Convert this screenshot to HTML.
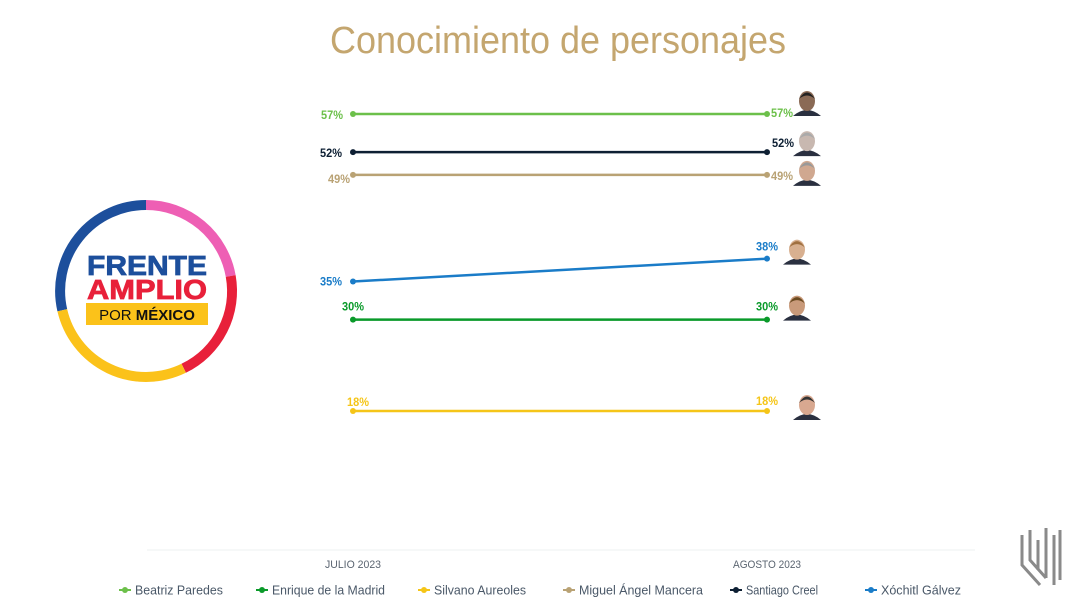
<!DOCTYPE html>
<html><head><meta charset="utf-8"><style>
body{margin:0;background:#fff;width:1080px;height:608px;overflow:hidden;font-family:"Liberation Sans",sans-serif}
</style></head><body>
<svg width="1080" height="608" viewBox="0 0 1080 608" xmlns="http://www.w3.org/2000/svg" id="svg">
<text x="558" y="53" text-anchor="middle" font-size="38" fill="#c4a66f" textLength="456" lengthAdjust="spacingAndGlyphs" font-family="Liberation Sans, sans-serif">Conocimiento de personajes</text>
<g>
<path d="M62.3,310.3 A86,86 0 0 1 146,205" fill="none" stroke="#1d4f9c" stroke-width="10"/>
<path d="M146,205 A86,86 0 0 1 230.7,276" fill="none" stroke="#ee5fb4" stroke-width="10"/>
<path d="M230.7,276 A86,86 0 0 1 183.7,368.3" fill="none" stroke="#e8203a" stroke-width="10"/>
<path d="M183.7,368.3 A86,86 0 0 1 62.3,310.3" fill="none" stroke="#fbc21a" stroke-width="10"/>
<text x="147" y="275" text-anchor="middle" font-family="Liberation Sans, sans-serif" font-weight="bold" font-size="28" textLength="120" lengthAdjust="spacingAndGlyphs" fill="#1d4f9c" stroke="#1d4f9c" stroke-width="0.8">FRENTE</text>
<text x="147" y="299" text-anchor="middle" font-family="Liberation Sans, sans-serif" font-weight="bold" font-size="28" textLength="120" lengthAdjust="spacingAndGlyphs" fill="#e8203a" stroke="#e8203a" stroke-width="0.8">AMPLIO</text>
<rect x="86" y="303" width="122" height="22" fill="#fbc21a"/>
<text x="147" y="320" text-anchor="middle" font-family="Liberation Sans, sans-serif" font-size="15" fill="#111"><tspan>POR </tspan><tspan font-weight="bold">MÉXICO</tspan></text>
</g>
<line x1="147" y1="550" x2="975" y2="550" stroke="#eef0f2" stroke-width="1"/>
<g id="plot"></g>
<g stroke="#8a8a8a" stroke-width="3" fill="none">
<path d="M1022,535 L1022,565 L1040,585 M1030,530 L1030,560 L1046,578 M1038,540 L1038,570 M1046,528 L1046,578 M1054,535 L1054,585 M1060,530 L1060,580"/>
</g>
</svg>
<script>
const categories = ["JULIO 2023", "AGOSTO 2023"];
const seriesNames = ["Beatriz Paredes","Enrique de la Madrid","Silvano Aureoles","Miguel Ángel Mancera","Santiago Creel","Xóchitl Gálvez"];
const beatriz = [57, 57];
const enrique = [30, 30];
const silvano = [18, 18];
const mancera = [49, 49];
const creel = [52, 52];
const xochitl = [35, 38];
const seriesValues = [beatriz, enrique, silvano, mancera, creel, xochitl];

const colors = ["#6cc04a","#0a9a2a","#f5c518","#b9a274","#0d1f33","#1a7cc8"];
const lOff = [[-21,5],[0,-9],[5,-5],[-14,8],[-22,5],[-22,4]];
const rOff = [[15,3],[0,-9],[0,-6],[15,5],[16,-5],[0,-8]];
const photoOff = [[40,-12],[30,-13],[40,-5],[40,-3],[40,-10],[30,-8]];
const skin = ["#8a6a55","#c99a7a","#d8a890","#d0a890","#c8b8b0","#d8b090"];
const hair = ["#222","#6a4a20","#333","#999","#aaa","#a07040"];

const xScale = i => 353 + i * (767 - 353);
const yScale = v => 114 + (57 - v) * 7.615;
const NS = "http://www.w3.org/2000/svg";
const plot = document.getElementById("plot");
function mk(tag, attrs, parent){const e=document.createElementNS(NS,tag);for(const k in attrs)e.setAttribute(k,attrs[k]);(parent||plot).appendChild(e);return e;}

seriesValues.forEach((vals, s) => {
  const g = mk("g", {});
  
  
  const pts = vals.map((v,i)=>[xScale(i), yScale(v)]);
  const ln = mk("polyline", {points: pts.map(p=>p.join(",")).join(" "), fill:"none", stroke:colors[s], "stroke-width":2.5}, g);
  
  
  pts.forEach((p,i)=>{
    const c = mk("circle", {cx:p[0], cy:p[1], r:3, fill:colors[s]}, g);
    
    
    const off = i===0 ? lOff[s] : rOff[s];
    const t = mk("text", {x:p[0]+off[0], y:p[1]+off[1], "text-anchor":"middle", "font-size":12, "font-weight":"bold", fill:colors[s], textLength:22, lengthAdjust:"spacingAndGlyphs"}, g);
    t.textContent = vals[i] + "%";
    
    
  });
  const last = pts[pts.length-1];
  const px = last[0]+photoOff[s][0], py = last[1]+photoOff[s][1];
  const ph = mk("g", {}, g);
  
  
  mk("path", {d:`M${px-14},${py+14} Q${px},${py+2} ${px+14},${py+14} Z`, fill:"#2a3040"}, ph);
  mk("ellipse", {cx:px, cy:py-1, rx:8, ry:10, fill:skin[s]}, ph);
  mk("path", {d:`M${px-8},${py-3} Q${px},${py-16} ${px+8},${py-3} Q${px},${py-10} ${px-8},${py-3}Z`, fill:hair[s]}, ph);
});

categories.forEach((c,i)=>{
  const t = mk("text", {x:xScale(i), y:568, "text-anchor":"middle", "font-size":11, fill:"#5a6470", textLength: i===0?56:68, lengthAdjust:"spacingAndGlyphs"});
  t.textContent = c;
  
  
});

const legX = [125, 262, 424, 569, 736, 871];
const legW = [88, 113, 92, 124, 72, 80];
seriesNames.forEach((n,s)=>{
  const g = mk("g", {});
  
  
  mk("line", {x1:legX[s]-6, y1:590, x2:legX[s]+6, y2:590, stroke:colors[s], "stroke-width":2}, g);
  mk("circle", {cx:legX[s], cy:590, r:3, fill:colors[s]}, g);
  const t = mk("text", {x:legX[s]+10, y:594.5, "font-size":13, fill:"#4a5868", textLength:legW[s], lengthAdjust:"spacingAndGlyphs"}, g);
  t.textContent = n;
});
</script>
</body></html>
